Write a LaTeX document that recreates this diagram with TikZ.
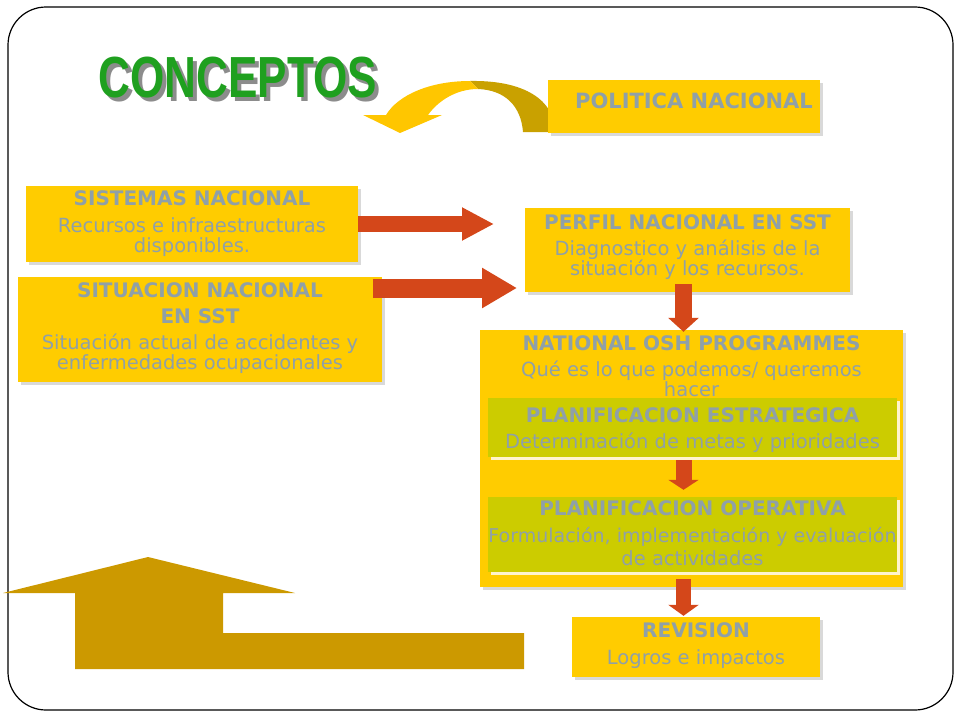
\documentclass[tikz,border=0pt]{standalone}
\usepackage{fontspec}
\setmainfont{DejaVu Sans}
\newfontfamily\titlefont{Liberation Sans}
\usetikzlibrary{positioning,shadows,arrows.meta}
\definecolor{boxyellow}{HTML}{FFCC00}
\definecolor{boxolive}{HTML}{CCCC00}
\definecolor{txtgray}{HTML}{8FA0A8}
\definecolor{arrowred}{HTML}{D4471A}
\definecolor{arrowgold}{HTML}{CC9900}
\definecolor{curvegold}{HTML}{C9A100}
\definecolor{curveyellow}{HTML}{FFC600}
\definecolor{titlegreen}{HTML}{1FA01F}
\newcommand{\ttl}[1]{{\fontsize{20}{20}\selectfont\bfseries #1}}
\newcommand{\bigword}{\scalebox{0.76}[1]{CONCEPTOS}}

\begin{document}
\begin{tikzpicture}[x=1pt, y=-1pt,
box/.style = {rectangle, fill=boxyellow, inner sep=0pt,
	drop shadow={shadow xshift=3pt, shadow yshift=-3pt, fill=black!15, opacity=1}},
innerbox/.style = {rectangle, fill=boxolive, inner sep=0pt,
	drop shadow={shadow xshift=3pt, shadow yshift=-3pt, fill=white, opacity=0.8}},
txt/.style = {text=txtgray, align=center, inner sep=0pt,
	font=\fontsize{19.5}{20}\selectfont},
redarrow/.style = {draw=arrowred, line width=#1}]
\useasboundingbox (0,0) rectangle (960,720);
\draw[line width=1.2pt, rounded corners=38pt] (8,7) rectangle (953,710);

% title, with its grey shadow
\node[anchor=base, text=titlegreen, inner sep=0pt,
	font=\titlefont\bfseries\fontsize{58}{58}\selectfont] (title) at (238,97)
	{\makebox[0pt][l]{\hspace{4pt}\raisebox{-4pt}{\color{black!45}\bigword}}\bigword};

% curved arrow
\fill[curvegold] (523,132) .. controls (521,106) and (505,90) .. (478,89)
	-- (470,81) .. controls (524,80) and (555,100) .. (555,132) -- cycle;
\fill[curveyellow] (470,81) .. controls (430,81) and (398,95) .. (386,115)
	-- (363,115) -- (400,133) -- (442,115) -- (428,115)
	.. controls (438,101) and (456,89) .. (478,89) -- cycle;

% boxes
\node[box, minimum width=272pt, minimum height=53pt] (pol) at (684,106.5) {};
\node[box, minimum width=332pt, minimum height=76pt] (sis) at (192,224) {};
\node[box, minimum width=364pt, minimum height=105pt] (sit) at (200,329.5) {};
\node[box, minimum width=325pt, minimum height=84pt] (perf) at (687.5,250) {};
\node[box, minimum width=423pt, minimum height=257pt] (prog) at (691.5,458.5) {};
\node[innerbox, minimum width=409pt, minimum height=59pt] (est) at (692.5,427.5) {};
\node[innerbox, minimum width=409pt, minimum height=75pt] (ope) at (692.5,534.5) {};
\node[box, minimum width=248pt, minimum height=60pt] (rev) at (696,647) {};

% texts
\node[txt, below=12.7pt of pol.north, xshift=10pt] (poltxt)
	{{\fontsize{21}{21}\selectfont\bfseries POLITICA NACIONAL}};
\node[txt, below=4.7pt of sis.north] (sistxt)
	{\ttl{SISTEMAS NACIONAL}\\[7pt] Recursos e infraestructuras\\ disponibles.};
\node[txt, below=5.7pt of sit.north] (sittxt)
	{\ttl{SITUACION NACIONAL}\\[6pt] \ttl{EN SST}\\[6pt]
	Situación actual de accidentes y\\ enfermedades ocupacionales};
\node[txt, below=6.7pt of perf.north] (perftxt)
	{\ttl{PERFIL NACIONAL EN SST}\\[6pt] Diagnostico y análisis de la\\ situación y los recursos.};
\node[txt, below=5.7pt of prog.north] (progtxt)
	{\ttl{NATIONAL OSH PROGRAMMES}\\[6pt] Qué es lo que podemos/ queremos\\ hacer};
\node[txt, below=9.7pt of est.north] (esttxt)
	{\ttl{PLANIFICACION ESTRATEGICA}\\[6pt] Determinación de metas y prioridades};
\node[txt, below=3.7pt of ope.north] (opetxt)
	{\ttl{PLANIFICACION OPERATIVA}\\[7pt]
	{\fontsize{19}{20}\selectfont Formulación, implementación y evaluación}\\[3pt] de actividades};
\node[txt, below=5.7pt of rev.north] (revtxt)
	{\ttl{REVISION}\\[7pt] Logros e impactos};

% big return arrow
\fill[arrowgold] (3,593) -- (148,557) -- (295,593) -- (223,593) -- (223,633)
	-- (524,633) -- (524,669) -- (75,669) -- (75,593) -- cycle;

% red arrows
\coordinate (tip1) at (494,224);
\coordinate (tail2) at (373,288);
\coordinate (tip2) at (517,288);
\draw[redarrow=16pt, -{Triangle[length=32pt,width=31pt]}] (sis.east) -- (tip1);
\draw[redarrow=19pt, -{Triangle[length=35pt,width=38pt]}] (tail2) -- (tip2);
\draw[redarrow=17pt, -{Triangle[length=14pt,width=30pt]}]
	([xshift=-4pt,yshift=8pt]perf.south) -- ([xshift=-8pt,yshift=-2pt]prog.north);
\draw[redarrow=16pt, -{Triangle[length=10pt,width=30pt]}]
	([xshift=-9pt,yshift=-3pt]est.south) -- ([xshift=-9pt,yshift=7pt]ope.north);
\draw[redarrow=15pt, -{Triangle[length=11pt,width=30pt]}]
	([xshift=-8pt,yshift=8pt]prog.south) -- ([xshift=-12.5pt,yshift=1pt]rev.north);
\end{tikzpicture}
\end{document}
